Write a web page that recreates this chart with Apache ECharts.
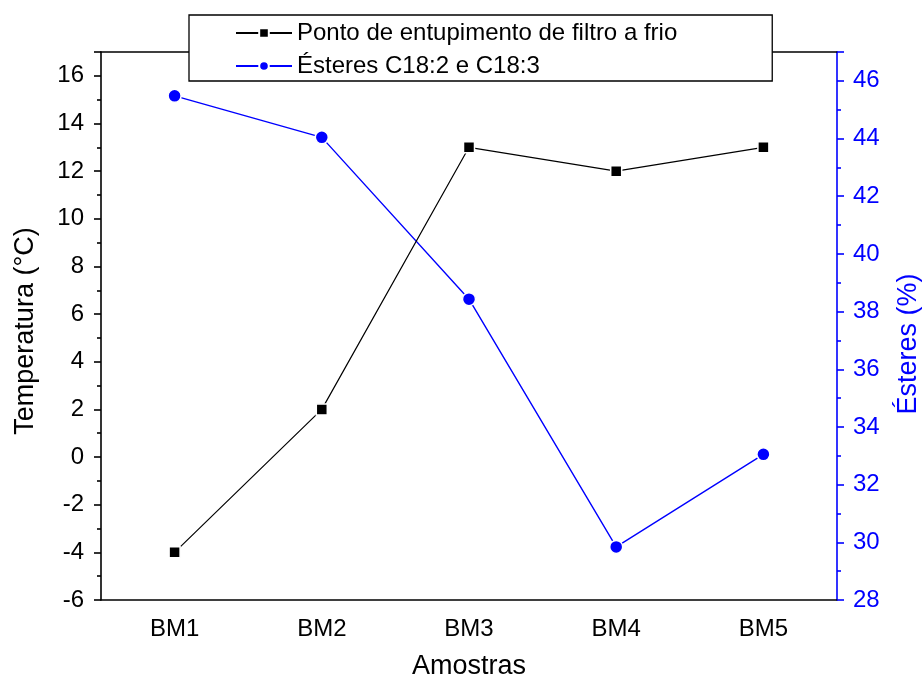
<!DOCTYPE html>
<html>
<head>
<meta charset="utf-8">
<script src="https://cdn.jsdelivr.net/npm/echarts@6/dist/echarts.min.js"></script>
<style>html,body{margin:0;padding:0;background:#fff;overflow:hidden}#c{width:922px;height:678px}</style>
</head>
<body>
<div id="c"></div>
<script>
const categories = ['BM1', 'BM2', 'BM3', 'BM4', 'BM5'];
const temperatura = [-4, 2, 13, 12, 13];
const esteres = [45.48, 44.04, 38.43, 29.84, 33.05];
const seriesNames = ['Ponto de entupimento de filtro a frio', 'Ésteres C18:2 e C18:3'];

const FONT = 'Liberation Sans, Arial, sans-serif';

const chart = echarts.init(document.getElementById('c'), null, {renderer: 'canvas', width: 922, height: 678});
chart.setOption({
  backgroundColor: '#fff',
  animation: false,
  grid: {left: 101, top: 52, width: 736, height: 548, containLabel: false, outerBoundsMode: 'none'},
  legend: {
    orient: 'vertical',
    left: 189, top: 15,
    padding: [6, 95, 3, 46],
    itemGap: 9,
    itemWidth: 56, itemHeight: 12,
    backgroundColor: '#fff',
    borderColor: '#000', borderWidth: 1.3,
    borderRadius: 0,
    textStyle: {fontFamily: FONT, fontSize: 24, color: '#000', lineHeight: 24},
    data: seriesNames
  },
  xAxis: [
    {
      type: 'category', position: 'bottom', data: categories, boundaryGap: true,
      name: 'Amostras', nameLocation: 'middle', nameGap: 53,
      nameTextStyle: {fontFamily: FONT, fontSize: 27, color: '#000'},
      axisLine: {onZero: false, lineStyle: {color: '#000', width: 1.6}},
      axisTick: {alignWithLabel: true, length: 9, lineStyle: {color: '#000', width: 1.6}},
      axisLabel: {fontFamily: FONT, fontSize: 24, color: '#000', margin: 17},
      splitLine: {show: false}
    },
    {
      type: 'category', position: 'bottom', data: categories, boundaryGap: true,
      axisLine: {show: false, onZero: false},
      axisTick: {length: 5, lineStyle: {color: '#000', width: 1.6}},
      axisLabel: {show: false},
      splitLine: {show: false}
    },
    {
      type: 'category', position: 'top', data: categories, boundaryGap: true,
      axisLine: {onZero: false, lineStyle: {color: '#000', width: 1.6}},
      axisTick: {alignWithLabel: true, inside: true, length: 10, lineStyle: {color: '#000', width: 1.6}},
      axisLabel: {show: false},
      splitLine: {show: false}
    }
  ],
  yAxis: [
    {
      type: 'value', position: 'left', min: -6, max: 17, interval: 2,
      name: 'Temperatura (°C)', nameLocation: 'middle', nameGap: 62, nameRotate: 90,
      nameTextStyle: {fontFamily: FONT, fontSize: 27, color: '#000', padding: [0, 10, 0, 0]},
      axisLine: {show: true, onZero: false, lineStyle: {color: '#000', width: 1.6}},
      axisTick: {show: true, length: 7, lineStyle: {color: '#000', width: 1.6}},
      minorTick: {show: true, splitNumber: 2, length: 4, lineStyle: {color: '#000', width: 1.6}},
      axisLabel: {fontFamily: FONT, fontSize: 24, color: '#000', margin: 17,
        formatter: v => (Math.abs(v % 2) === 0 ? String(v) : '')},
      splitLine: {show: false}
    },
    {
      type: 'value', position: 'right', min: 28, max: 47, interval: 2,
      name: 'Ésteres (%)', nameLocation: 'middle', nameGap: 58, nameRotate: 90,
      nameTextStyle: {fontFamily: FONT, fontSize: 27, color: '#0000ff', padding: [0, 36, 0, 0]},
      axisLine: {show: true, onZero: false, lineStyle: {color: '#0000ff', width: 1.6}},
      axisTick: {show: true, length: 7, lineStyle: {color: '#0000ff', width: 1.6}},
      minorTick: {show: true, splitNumber: 2, length: 4, lineStyle: {color: '#0000ff', width: 1.6}},
      axisLabel: {fontFamily: FONT, fontSize: 24, color: '#0000ff', margin: 16,
        formatter: v => (v % 2 === 0 ? String(v) : '')},
      splitLine: {show: false}
    }
  ],
  series: [
    {
      name: seriesNames[1], type: 'line', xAxisIndex: 0, yAxisIndex: 1,
      data: esteres, symbol: 'circle', symbolSize: 13,
      lineStyle: {color: '#0000ff', width: 1.4},
      itemStyle: {color: '#0000ff', borderColor: '#fff', borderWidth: 1.5},
      z: 2
    },
    {
      name: seriesNames[0], type: 'line', xAxisIndex: 0, yAxisIndex: 0,
      data: temperatura, symbol: 'rect', symbolSize: 11,
      lineStyle: {color: '#000', width: 1.2},
      itemStyle: {color: '#000', borderColor: '#fff', borderWidth: 1.5},
      z: 3
    }
  ]
});
</script>
</body>
</html>
